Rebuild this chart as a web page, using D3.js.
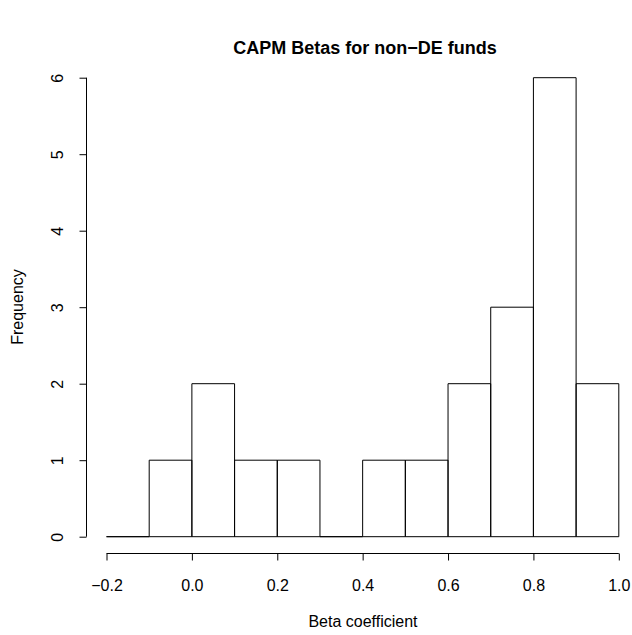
<!DOCTYPE html>
<html><head><meta charset="utf-8">
<script src="https://cdn.jsdelivr.net/npm/d3@7"></script>
<style>body{margin:0;background:#fff}svg{display:block}text{font-family:"Liberation Sans",Arial,sans-serif;fill:#000}</style>
</head><body><svg id="c" width="632" height="635"></svg>
<script>
const binStarts = [-0.2,-0.1,0.0,0.1,0.2,0.3,0.4,0.5,0.6,0.7,0.8,0.9];
const binWidth = 0.1;
const counts = [0,1,2,1,1,0,1,1,2,3,6,2];
const xTicks = [-0.2,0.0,0.2,0.4,0.6,0.8,1.0];
const yTicks = [0,1,2,3,4,5,6];
const title = "CAPM Betas for non\u2212DE funds";
const xLabel = "Beta coefficient";
const yLabel = "Frequency";

const svg = d3.select("#c");
const x = d3.scaleLinear().domain([-0.2,1.0]).range([106.5,618.8]);
const y = d3.scaleLinear().domain([0,6]).range([536.7,77.7]);
const fmt = v => (v<0?"\u2212":"") + Math.abs(v).toFixed(1);

svg.append("g").selectAll("path").data(binStarts).join("path")
  .attr("d", (d,i)=>{
    const x0=x(d), x1=x(d+binWidth), y0=y(0), y1=y(counts[i]);
    return `M${x0},${y0}V${y1}H${x1}V${y0}Z`;
  })
  .attr("fill","none").attr("stroke","#000").attr("stroke-width",1);

// x axis
const xg = svg.append("g").attr("transform","translate(0,553.5)");
xg.call(d3.axisBottom(x).tickValues(xTicks).tickFormat(fmt).tickSize(7).tickPadding(8).tickSizeOuter(0));
xg.select(".domain").attr("d",`M${x(-0.2)},0H${x(1.0)}`);
xg.selectAll(".tick text").attr("dy",null).attr("y",37.5).style("font-size","16px")
  .attr("font-family",null);

// y axis
const yg = svg.append("g").attr("transform","translate(86.5,0)");
yg.call(d3.axisLeft(y).tickValues(yTicks).tickFormat(d3.format("d")).tickSize(7).tickSizeOuter(0));
yg.select(".domain").attr("d",`M0,${y(0)}V${y(6)}`);
yg.selectAll(".tick text").attr("x",null).attr("dy",null)
  .attr("transform","translate(-23.5,0) rotate(-90)").attr("text-anchor","middle")
  .attr("y",0).style("font-size","16px").attr("font-family",null);

svg.selectAll(".domain, .tick line").attr("stroke","#000");

svg.append("text").attr("x",365).attr("y",54).attr("text-anchor","middle")
  .style("font-size","18px").style("font-weight","bold").text(title);
svg.append("text").attr("x",363).attr("y",627).attr("text-anchor","middle")
  .style("font-size","16px").text(xLabel);
svg.append("text").attr("transform","translate(23,307) rotate(-90)").attr("text-anchor","middle")
  .style("font-size","16px").text(yLabel);
</script></body></html>
